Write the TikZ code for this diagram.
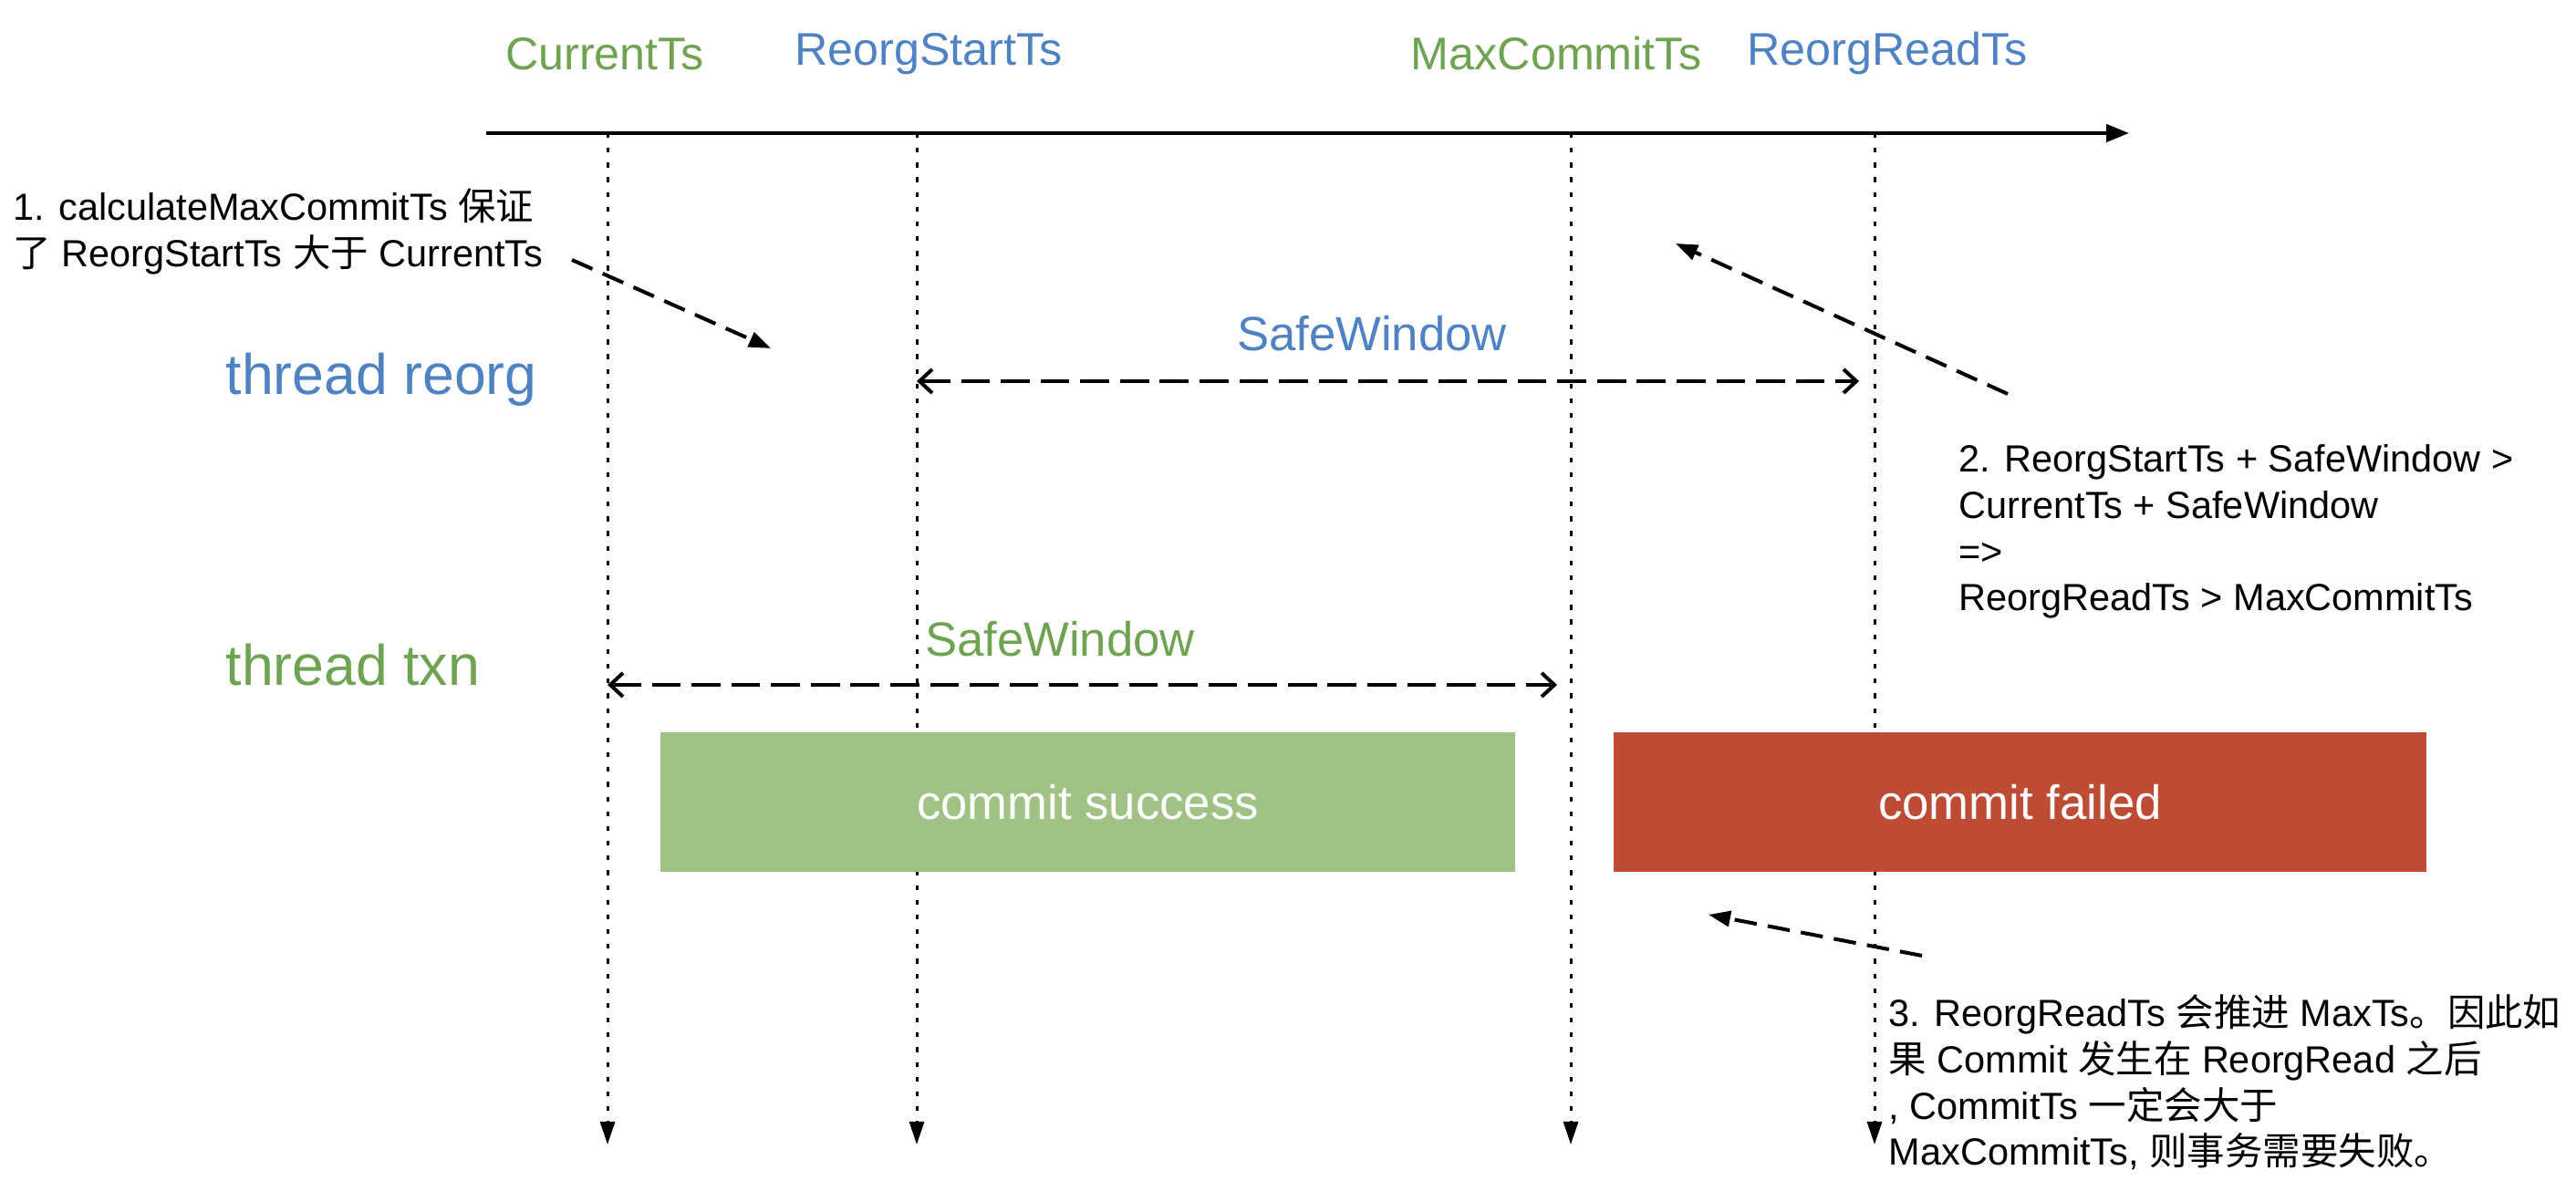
\documentclass[tikz,border=0pt]{standalone}
\usepackage{fontspec}
\setmainfont{Liberation Sans}
\newfontfamily\cjk{Noto Sans CJK SC}
\newcommand{\zh}[1]{{\cjk #1}}
\usetikzlibrary{arrows.meta,positioning}
\definecolor{tsgreen}{HTML}{6FA352}
\definecolor{tsblue}{HTML}{4F82C2}
\definecolor{okfill}{HTML}{A0C284}
\definecolor{failfill}{HTML}{BE4B33}

\begin{document}
\begin{tikzpicture}[>=Stealth]
\tikzstyle{T}=[font=\fontsize{14.3}{17}\selectfont,inner sep=0pt]
\tikzstyle{thr}=[font=\fontsize{17.8}{21}\selectfont,inner sep=0pt,anchor=west]
\tikzstyle{W}=[font=\fontsize{15}{18}\selectfont,inner sep=0pt]
\tikzstyle{N}=[font=\fontsize{11.8}{14.4}\selectfont,align=left,inner sep=0pt,anchor=west]
\tikzstyle{B}=[minimum width=9.37cm,minimum height=1.53cm,inner sep=0pt,text=white,font=\fontsize{15}{18}\selectfont]
\tikzstyle{axis}=[line width=1.15pt,-{Triangle[length=0.25cm,width=0.19cm]}]
\tikzstyle{life}=[line width=0.85pt,dash pattern=on 1.5pt off 3.1pt,-{Triangle[length=0.25cm,width=0.16cm]}]
\tikzstyle{win}=[line width=1.15pt,dash pattern=on 9pt off 3.4pt,{Straight Barb[length=0.14cm,width=0.26cm]}-{Straight Barb[length=0.14cm,width=0.26cm]}]
\tikzstyle{note}=[line width=1.15pt,dash pattern=on 7pt off 3.5pt,-{Triangle[length=0.24cm,width=0.17cm]}]
\useasboundingbox (0,0) rectangle (28.24,13.06);
\node[T,text=tsgreen] (cur) at (6.63,12.47) {CurrentTs};
\node[T,text=tsblue] (rst) at (10.18,12.47) {ReorgStartTs};
\node[T,text=tsgreen] (mct) at (17.06,12.47) {MaxCommitTs};
\node[T,text=tsblue] (rrt) at (20.69,12.47) {ReorgReadTs};
\coordinate (a0) at (5.33,11.60);
\coordinate (a1) at (23.34,11.60);
\draw[axis] (a0) -- (a1);
\foreach \n/\x in {cur/6.66,rst/10.05,mct/17.22,rrt/20.55}{
  \coordinate (\n top) at (\x,11.60);
  \coordinate (\n bot) at (\x,0.51);
  \draw[life] (\n top) -- (\n bot);
}
\node[thr,text=tsblue] (reorg) at (2.47,8.90) {thread reorg};
\node[thr,text=tsgreen] (txn) at (2.47,5.77) {thread txn};
\node[W,text=tsblue] (sw1) at (15.04,9.40) {SafeWindow};
\node[W,text=tsgreen] (sw2) at (11.62,6.05) {SafeWindow};
\coordinate (w1a) at (10.05,8.88); \coordinate (w1b) at (20.38,8.88);
\coordinate (w2a) at (6.66,5.55); \coordinate (w2b) at (17.07,5.55);
\draw[win] (w1a) -- (w1b);
\draw[win] (w2a) -- (w2b);
\node[B,fill=okfill] (ok) at (11.925,4.265) {commit success};
\node[B,fill=failfill,minimum width=8.91cm] (fail) at (22.145,4.265) {commit failed};
\node[N] (n1) at (0.14,10.52) {1. calculateMaxCommitTs \zh{保证}\\\zh{了} ReorgStartTs \zh{大于} CurrentTs};
\node[N] (n2) at (21.47,7.23) {2. ReorgStartTs + SafeWindow >\\CurrentTs + SafeWindow\\=>\\ReorgReadTs > MaxCommitTs};
\node[N] (n3) at (20.70,1.19) {3. ReorgReadTs \zh{会推进} MaxTs\zh{。因此如}\\\zh{果} Commit \zh{发生在} ReorgRead \zh{之后}\\, CommitTs \zh{一定会大于}\\MaxCommitTs, \zh{则事务需要失败。}};
\coordinate (p1a) at (6.27,10.21); \coordinate (p1b) at (8.45,9.24);
\coordinate (p2a) at (22.01,8.74); \coordinate (p2b) at (18.37,10.39);
\coordinate (p3a) at (21.07,2.58); \coordinate (p3b) at (18.73,3.03);
\draw[note] (p1a) -- (p1b);
\draw[note] (p2a) -- (p2b);
\draw[note] (p3a) -- (p3b);
\end{tikzpicture}
\end{document}
